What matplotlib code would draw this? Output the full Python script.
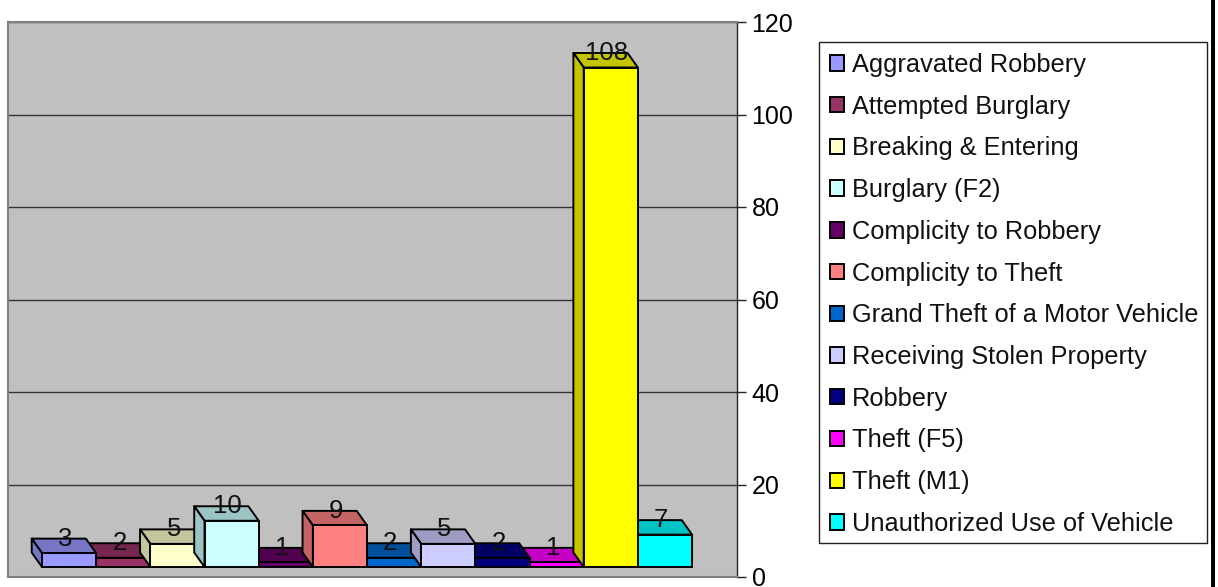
import matplotlib
matplotlib.use('Agg')
import matplotlib.pyplot as plt
from matplotlib.patches import Polygon, Rectangle, Patch
from matplotlib.colors import to_rgb

plt.rcParams['font.family'] = ['Liberation Sans', 'DejaVu Sans']

categories = ['Aggravated Robbery', 'Attempted Burglary', 'Breaking & Entering',
              'Burglary (F2)', 'Complicity to Robbery', 'Complicity to Theft',
              'Grand Theft of a Motor Vehicle', 'Receiving Stolen Property',
              'Robbery', 'Theft (F5)', 'Theft (M1)', 'Unauthorized Use of Vehicle']
values = [3, 2, 5, 10, 1, 9, 2, 5, 2, 1, 108, 7]
colors = ['#9999FF', '#993366', '#FFFFCC', '#CCFFFF', '#660066', '#FF8080',
          '#0066CC', '#CCCCFF', '#000080', '#FF00FF', '#FFFF00', '#00FFFF']
yticks = [0, 20, 40, 60, 80, 100, 120]

W, H = 1218, 587
fig = plt.figure(figsize=(W / 100, H / 100), dpi=100, facecolor='white')

# plot wall in pixels
left, right, top, bottom = 8, 737, 22, 577
ax = fig.add_axes([left / W, 1 - bottom / H, (right - left) / W, (bottom - top) / H])
ax.set_facecolor('#C0C0C0')

# one category = 54.17 px, one unit = 4.625 px
bar_w = 54.17
x0 = 42
ax.set_xlim((left - x0) / bar_w, (right - x0) / bar_w)
ax.set_ylim(0, 120)

base = 10 / 4.625
dx = 10.3 / bar_w
dy = 14.5 / 4.625
lw = 1.4


def darker(c, f=0.77):
    return tuple(v * f for v in to_rgb(c))


# taller bars sit in front of their neighbours
for i, (v, c) in enumerate(zip(values, colors)):
    z = 3 + v * 0.01
    ax.bar(i, v, width=1, bottom=base, align='edge', color=c, edgecolor='black', lw=lw, zorder=z + 0.002)
    t = base + v
    ax.add_patch(Polygon([(i, t), (i + 1, t), (i + 1 - dx, t + dy), (i - dx, t + dy)],
                         facecolor=darker(c), edgecolor='black', lw=lw, zorder=z, joinstyle='round'))
    ax.add_patch(Polygon([(i, base), (i, t), (i - dx, t + dy), (i - dx, base + dy)],
                         facecolor=darker(c), edgecolor='black', lw=lw, zorder=z, joinstyle='round'))

for i, v in enumerate(values):
    ax.text(i + 0.43, base + v + dy, str(v), ha='center', va='center', fontsize=18.5, color='#111111', zorder=10)

ax.set_xticks([])
ax.yaxis.tick_right()
ax.set_yticks(yticks)
ax.grid(True, axis='y', color='#333333', lw=1)
ax.tick_params(axis='y', length=6.5, width=1, color='#222222', labelsize=18, pad=4, right=True)
for s in ['top', 'left', 'bottom']:
    ax.spines[s].set_color('#808080')
    ax.spines[s].set_linewidth(1.5)
ax.spines['right'].set_color('#222222')
ax.spines['right'].set_linewidth(1)

# legend frame plus the legend itself
fig.add_artist(Rectangle((819 / W, 1 - 543 / H), (1207 - 819) / W, (543 - 42) / H,
                         transform=fig.transFigure, facecolor='white', edgecolor='#222222', lw=1))
handles = [Patch(facecolor=c, edgecolor='black', lw=1.4) for c in colors]
fig.legend(handles, categories, loc='upper left', bbox_to_anchor=(830 / W, 1 - 53 / H),
           frameon=False, fontsize=18.3, borderpad=0, borderaxespad=0, labelspacing=0.697,
           handlelength=0.55, handleheight=0.55, handletextpad=0.33, labelcolor='#111111')

# black rule down the right edge
fig.add_artist(Rectangle((1211 / W, 0), 4 / W, 1, transform=fig.transFigure, facecolor='black', edgecolor='none'))

fig.savefig('out.png', dpi=100)
